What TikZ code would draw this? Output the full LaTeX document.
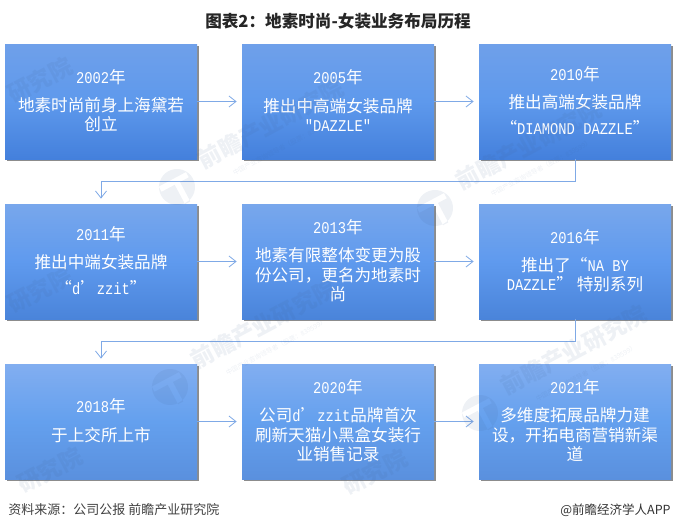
\documentclass[tikz,border=0pt]{standalone}
\usepackage{fontspec}
\setmainfont{Noto Sans CJK SC}
\setmonofont[FakeStretch=.84]{Liberation Mono}
\usetikzlibrary{arrows.meta,shadows}

\definecolor{arrowblue}{HTML}{7FA9E6}
\definecolor{markgray}{HTML}{3F5F8F}
\definecolor{topa}{HTML}{6FA0EA}
\definecolor{mida}{HTML}{5E99EC}
\definecolor{bota}{HTML}{4480DC}
\definecolor{topb}{HTML}{78A7EC}
\definecolor{midb}{HTML}{5F9AEE}
\definecolor{botb}{HTML}{4A84DA}
\definecolor{topc}{HTML}{82AEF0}
\definecolor{midc}{HTML}{64A0EE}
\definecolor{botc}{HTML}{5A90DE}
\newcommand{\lat}[1]{{\ttfamily\fontsize{16.4}{19.5}\selectfont #1}}
\newcommand{\yr}[1]{\raisebox{1.6pt}[\height][\depth]{\lat{#1}年}}
\newcommand{\markfont}{\mdseries\fontsize{6.5}{8}\selectfont}

\tikzset{
  card/.style={minimum width=192pt,minimum height=115pt,inner sep=0pt,align=center,
    text=white,font=\fontsize{16.6}{19.5}\selectfont,
    drop shadow={shadow xshift=1.5pt,shadow yshift=-2pt,opacity=.45,fill=black}},
  rowa/.style={card,top color=topa,bottom color=bota,middle color=mida},
  rowb/.style={card,top color=topb,bottom color=botb,middle color=midb},
  rowc/.style={card,top color=topc,bottom color=botc,middle color=midc},
  watermark/.style={rotate=28,text=markgray,opacity=.09,align=center,inner sep=0pt,
    font=\bfseries\fontsize{23}{25}\selectfont}
}

\begin{document}
\begin{tikzpicture}[x=1pt,y=-1pt,->,>={Straight Barb[length=7pt,width=11pt]},
                    shorten >=5pt,draw=arrowblue,line width=.8pt]

\useasboundingbox (0,0) rectangle (676,531);

\node[font=\bfseries\fontsize{16.6}{16.6}\selectfont,text=black!85] (title) at(338,21) {图表2：地素时尚-女装业务布局历程};

\node[rowa] (1) at(101,101.5) {\yr{2002}\\[7pt]地素时尚前身上海黛若\\创立};
\node[rowa] (2) at(338,101.5) {\yr{2005}\\[7pt]推出中高端女装品牌\\\lat{"DAZZLE"}};
\node[rowa] (3) at(575,101.5) {\yr{2010}\\[7pt]推出高端女装品牌\\[6pt]“\lat{DIAMOND DAZZLE}”};

\node[rowb] (4) at(101,261.5) {\yr{2011}\\[7pt]推出中端女装品牌\\[6pt]“\lat{d}’\lat{zzit}”};
\node[rowb] (5) at(338,261.5) {\yr{2013}\\[7pt]地素有限整体变更为股\\份公司，更名为地素时\\尚};
\node[rowb] (6) at(575,261.5) {\yr{2016}\\[7pt]推出了“\lat{NA BY}\\\lat{DAZZLE}” 特别系列};

\node[rowc] (7) at(101,421.5) {\yr{2018}\\[7pt]于上交所上市};
\node[rowc] (8) at(338,421.5) {\yr{2020}\\[7pt]公司\lat{d}’\lat{zzit}品牌首次\\刷新天猫小黑盒女装行\\业销售记录};
\node[rowc] (9) at(575,421.5) {\yr{2021}\\[7pt]多维度拓展品牌力建\\设，开拓电商营销新渠\\道};

\coordinate (w1) at (101,181);
\coordinate (w2) at (101,341);

\draw
(1) edge (2)
(2) edge (3)
(4) edge (5)
(5) edge (6)
(7) edge (8)
(8) edge (9)
;
\draw (3.south) |- (w1) -- (4.north);
\draw (6.south) |- (w2) -- (7.north);

% faint marks
\foreach \px/\py in {177/187,435/208,170/387,480/413}{
  \fill[markgray,opacity=.09,even odd rule,shift={(\px,\py)},rotate=28] (0,0) circle (18pt)
    (-16,-9) -- (15,-9) -- (15,-3) -- (5,-3) -- (5,19) -- (-1,19) -- (-1,-3) -- (-16,-3) -- cycle;
  \node[watermark] at(\px+98,\py-55) {前瞻产业研究院\\[-5pt]{\markfont 中国产业咨询领导者（股票：839599）}};
}
\foreach \px/\py in {40/80,40/290,50/470,375/472}{
  \node[watermark] at(\px,\py) {研究院};
}

\node[anchor=west,inner sep=0pt,font=\fontsize{13}{13}\selectfont,text=black!75] (source) at(8,510) {资料来源：公司公报 前瞻产业研究院};
\node[anchor=east,inner sep=0pt,font=\fontsize{12.5}{12.5}\selectfont,text=black!80] (brand) at(671,510) {@前瞻经济学人APP};

\end{tikzpicture}
\end{document}
